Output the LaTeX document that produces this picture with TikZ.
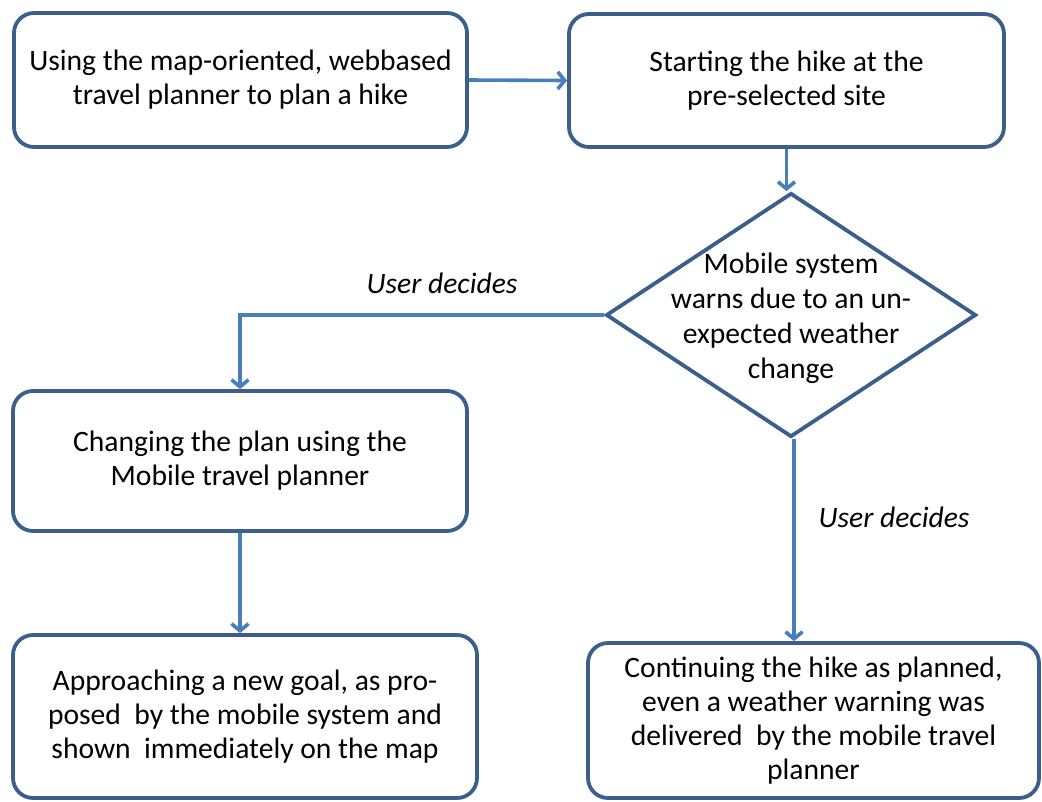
\documentclass[tikz,border=0pt]{standalone}
\usepackage{fontspec}
\setmainfont{Carlito}
\usetikzlibrary{shapes.geometric,arrows.meta}
\definecolor{boxline}{HTML}{3B5E8C}
\definecolor{flow}{HTML}{4A7EBB}
\begin{document}
\begin{tikzpicture}[x=1pt,y=-1pt,
  stage/.style={draw=boxline, line width=3.8pt, rounded corners=20pt, fill=white,
    align=center, inner sep=0pt, font=\fontsize{29.6}{34}\selectfont},
  decision/.style={diamond, draw=boxline, line width=3.8pt, fill=white, inner sep=0pt,
    minimum width=370pt, minimum height=244pt},
  decisiontext/.style={align=center, inner sep=0pt, font=\fontsize{29.6}{35}\selectfont},
  flowarrow/.style={draw=flow, line width=3.6pt, -{Straight Barb[length=7pt,width=17pt]}},
  choice/.style={inner sep=0pt, font=\fontsize{29.6}{34}\selectfont\itshape}
]
\fill[white] (0,0) rectangle (1042,801);
\useasboundingbox (0,0) rectangle (1042,801);

% process boxes
\node[stage, minimum width=453pt, minimum height=134pt] (plan) at (240.5,80)
  {Using the map-oriented, webbased\\ travel planner to plan a hike};
\node[stage, minimum width=435pt, minimum height=133pt] (start) at (786.5,80.5)
  {Starting the hike at the\\ pre-selected site};
\node[stage, minimum width=454pt, minimum height=140pt] (change) at (240,461)
  {Changing the plan using the\\ Mobile travel planner};
\node[stage, minimum width=464pt, minimum height=163pt] (goal) at (245,716.5)
  {Approaching a new goal, as pro-\\ posed~ by the mobile system and\\ shown~ immediately on the map};
\node[stage, minimum width=451pt, minimum height=155pt] (cont) at (813.5,720.5)
  {Continuing the hike as planned,\\ even a weather warning was\\ delivered~ by the mobile travel\\ planner};

% decision
\node[decision] (warn) at (791,315) {};
\node[decisiontext] (warntext) at (791,318)
  {Mobile system\\ warns due to an un-\\ expected weather\\ change};

% connectors
\draw[flowarrow] (plan.east) -- (start.west);
\draw[flowarrow] (start.south) -- (start.south |- warn.north);
\draw[flowarrow] (warn.west) -| (change.north);
\draw[flowarrow] (change.south) -- (change.south |- goal.north);
\draw[flowarrow] (warn.south) ++(3,0) coordinate (wsouth) -- (wsouth |- cont.north);

% branch labels
\node[choice] (leftchoice) at (442,283) {User decides};
\node[choice] (downchoice) at (894,517) {User decides};
\end{tikzpicture}
\end{document}
